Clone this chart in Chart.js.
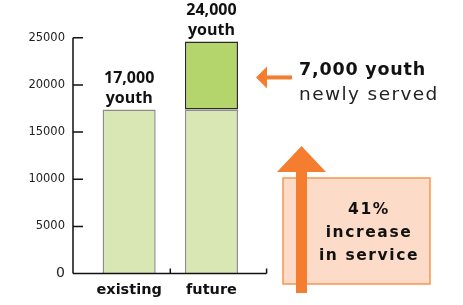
<!DOCTYPE html>
<html>
<head>
<meta charset="utf-8">
<script src="https://cdn.jsdelivr.net/npm/chart.js@4/dist/chart.umd.min.js"></script>
<style>
  html, body { margin: 0; padding: 0; background: #fff; }
  #wrap { position: relative; width: 463px; height: 305px; }
</style>
</head>
<body>
<div id="wrap"><canvas id="c"></canvas></div>
<script>
// data
const categories = ['existing', 'future'];
const baseYouth = [17400, 17400];
const newYouth = [null, 7200];
const yTicks = [0, 5000, 10000, 15000, 20000, 25000];
const barLabels = [['17,000', 'youth'], ['24,000', 'youth']];
const calloutTitle = '7,000 youth';
const calloutSub = 'newly served';
const boxLines = ['41%', 'increase', 'in service'];

const ORANGE = '#f47d30';

// axes, labels and the orange callouts
const decor = {
    id: 'decor',
    afterDatasetsDraw(chart) {
        const ctx = chart.ctx;
        const area = chart.chartArea;
        const xs = chart.scales.x, ys = chart.scales.y;
        const L = area.left - 15;
        const B = ys.getPixelForValue(0);
        const T = ys.getPixelForValue(yTicks[yTicks.length - 1]);
        const R = area.right + 14;

        ctx.save();
        ctx.strokeStyle = '#111';
        ctx.lineWidth = 1.5;
        ctx.beginPath();
        ctx.moveTo(L, T); ctx.lineTo(L, B);
        ctx.moveTo(L, B); ctx.lineTo(R, B);
        yTicks.forEach(v => {
            const py = ys.getPixelForValue(v);
            ctx.moveTo(L, py); ctx.lineTo(L + 10, py);
        });
        const mid = xs.getPixelForValue(0.5);
        ctx.moveTo(mid, B); ctx.lineTo(mid, B - 5);
        ctx.moveTo(R, B); ctx.lineTo(R, B - 5);
        ctx.stroke();

        // labels over each stack
        ctx.fillStyle = '#111';
        ctx.font = 'bold 16px "Open Sans"';
        ctx.textAlign = 'center';
        ctx.textBaseline = 'alphabetic';
        categories.forEach((c, i) => {
            let top = null, cx = null;
            chart.data.datasets.forEach((ds, di) => {
                const el = chart.getDatasetMeta(di).data[i];
                if (ds.data[i] != null && el) { top = el.y; cx = el.x; }
            });
            const lines = barLabels[i];
            lines.forEach((t, k) => {
                ctx.fillText(t, cx, top - 6 - (lines.length - 1 - k) * 20);
            });
        });

        // left-pointing arrow at the new segment
        const seg = chart.getDatasetMeta(1).data[1];
        const ay = (seg.y + seg.base) / 2 + 2;
        const tip = seg.x + seg.width / 2 + 18;
        ctx.fillStyle = ORANGE;
        ctx.beginPath();
        ctx.moveTo(tip, ay);
        ctx.lineTo(tip + 11, ay - 11);
        ctx.lineTo(tip + 11, ay + 11);
        ctx.closePath();
        ctx.fill();
        ctx.fillRect(tip + 10, ay - 2, 26, 4);

        ctx.textAlign = 'left';
        ctx.fillStyle = '#111';
        ctx.font = 'bold 17.5px "DejaVu Sans"';
        ctx.letterSpacing = '0.8px';
        ctx.fillText(calloutTitle, 299, 75);
        ctx.fillStyle = '#222';
        ctx.font = '18.5px "DejaVu Sans"';
        ctx.letterSpacing = '1.4px';
        ctx.fillText(calloutSub, 299, 100);

        // increase box
        ctx.letterSpacing = '0px';
        ctx.fillStyle = '#fcdcc9';
        ctx.fillRect(283, 178, 147, 106);
        ctx.strokeStyle = '#f6964f';
        ctx.lineWidth = 1.5;
        ctx.strokeRect(283, 178, 147, 106);

        // upward arrow
        ctx.fillStyle = ORANGE;
        ctx.fillRect(296, 170, 11, 123);
        ctx.beginPath();
        ctx.moveTo(301.5, 146);
        ctx.lineTo(326, 172);
        ctx.lineTo(277, 172);
        ctx.closePath();
        ctx.fill();

        ctx.fillStyle = '#111';
        ctx.textAlign = 'center';
        ctx.font = 'bold 15.5px "DejaVu Sans"';
        ctx.letterSpacing = '1.6px';
        boxLines.forEach((t, k) => ctx.fillText(t, 369, 214 + k * 23));
        ctx.restore();
    }
};

new Chart(document.getElementById('c'), {
    type: 'bar',
    data: {
        labels: categories,
        datasets: [
            {
                label: 'existing youth',
                data: baseYouth,
                backgroundColor: '#d8e7b4',
                borderColor: '#8c8c8c',
                borderWidth: 1.5,
                borderSkipped: 'bottom'
            },
            {
                label: 'new youth',
                data: newYouth,
                backgroundColor: '#b4d46c',
                borderColor: '#2a2a2a',
                borderWidth: 1.5,
                borderSkipped: false
            }
        ]
    },
    options: {
        responsive: true,
        maintainAspectRatio: false,
        animation: false,
        layout: { padding: { top: 37.7, right: 210.4, left: 0, bottom: 0 } },
        datasets: { bar: { categoryPercentage: 1, barPercentage: 0.645 } },
        plugins: { legend: { display: false }, tooltip: { enabled: false } },
        scales: {
            x: {
                stacked: true,
                grid: { display: false, drawTicks: false },
                border: { display: false },
                ticks: {
                    color: '#111',
                    padding: 8,
                    font: { family: 'DejaVu Sans', size: 14.5, weight: 'bold' }
                },
                afterFit: s => { s.height = 24.3; }
            },
            y: {
                stacked: true,
                min: 0,
                max: 25000,
                grid: { display: false, drawTicks: false },
                border: { display: false },
                ticks: {
                    stepSize: 5000,
                    padding: 23,
                    color: '#222',
                    callback: v => String(v),
                    font: c => ({ family: 'DejaVu Sans', size: c.tick && c.tick.value === 0 ? 14 : 11.5 })
                },
                afterFit: s => { s.width = 88; }
            }
        }
    },
    plugins: [decor]
});
</script>
</body>
</html>
